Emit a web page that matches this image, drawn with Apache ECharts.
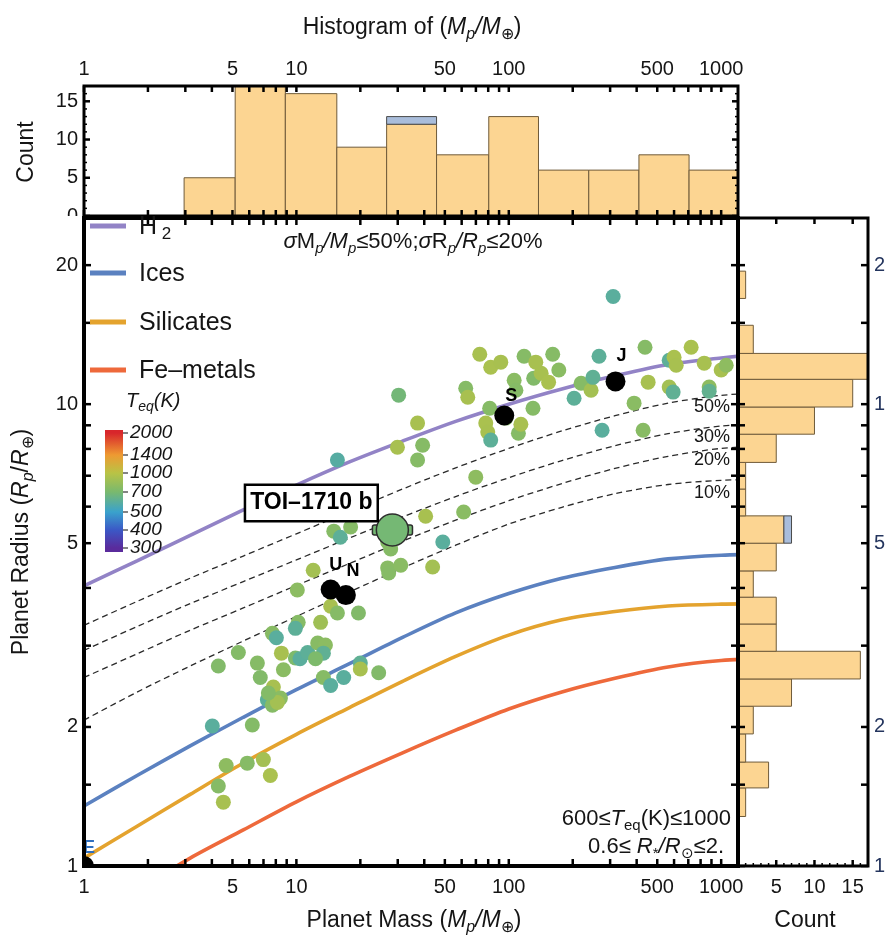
<!DOCTYPE html>
<html>
<head>
<meta charset="utf-8">
<script src="https://cdn.jsdelivr.net/npm/echarts@6.0.0/dist/echarts.min.js"></script>
<style>
html,body{margin:0;padding:0;background:#fff;}
#chart{width:885px;height:944px;}
</style>
</head>
<body>
<div id="chart"></div>
<script>
// ================= DATA =================
const massTickLabels = [1, 5, 10, 50, 100, 500, 1000];
const massTicks = [1,2,3,4,5,6,7,8,9,10,20,30,40,50,60,70,80,90,100,200,300,400,500,600,700,800,900,1000];
const radiusTickLabels = [1, 2, 5, 10, 20];
const radiusTicks = [1,1.5,2,3,4,5,6,7,8,9,10,15,20];
const countTickLabels = [5, 10, 15];
const histCountTickLabels = [0, 5, 10, 15];
const countMajorTicks = [0, 5, 10, 15];
const countMinorTicks = [1,2,3,4,6,7,8,9,11,12,13,14,16,17];

// top histogram (planet mass)
const massBinEdges = [2.96, 5.15, 8.87, 15.5, 26.6, 45.7, 80.5, 138, 238, 410, 706, 1216];
const massBinCounts = [5, 17, 16, 9, 12, 8, 13, 6, 6, 8, 6];
const massBinToi = [0, 0, 0, 0, 1, 0, 0, 0, 0, 0, 0];

// right histogram (planet radius)
const radiusBinEdges = [1.28, 1.476, 1.679, 1.932, 2.218, 2.541, 2.917, 3.342, 3.82, 4.355, 5.0, 5.73, 6.55, 7.48, 8.61, 9.86, 11.32, 12.88, 14.82, 16.94, 19.41];
const radiusBinCounts = [1, 4, 1, 2, 7, 16, 5, 5, 2, 5, 6, 1, 1, 5, 10, 15, 17, 2, 0, 1];
const radiusBinToi = [0, 0, 0, 0, 0, 0, 0, 0, 0, 0, 1, 0, 0, 0, 0, 0, 0, 0, 0, 0];

// composition curves (radius read at masses spaced by a quarter decade)
const compMass = [1, 1.778, 3.162, 5.623, 10, 17.78, 31.62, 56.23, 100, 177.8, 316.2, 562.3, 1000, 1778];
const h2Radius = [4.04, 4.58, 5.20, 5.90, 6.68, 7.50, 8.32, 9.18, 10.0, 10.79, 11.52, 12.19, 12.59, 12.94];
const icesRadius = [1.349, 1.570, 1.820, 2.099, 2.410, 2.742, 3.126, 3.532, 3.890, 4.198, 4.431, 4.624, 4.710, 4.732];
const silicatesRadius = [1.040, 1.219, 1.429, 1.671, 1.928, 2.203, 2.512, 2.844, 3.162, 3.412, 3.556, 3.656, 3.690, 3.698];
const feMass = [1.778, 3.162, 5.623, 10, 17.78, 31.62, 56.23, 100, 177.8, 316.2, 562.3, 1000, 1778];
const feRadius = [0.883, 1.040, 1.197, 1.377, 1.563, 1.758, 1.968, 2.188, 2.382, 2.550, 2.698, 2.786, 2.818];

// H/He fraction (dashed) curves
const fracMass = [1, 1.778, 3.162, 5.623, 10, 17.78, 31.62, 56.23, 100, 177.8, 316.2, 562.3, 1000, 1778];
const frac50Radius = [3.32, 3.74, 4.20, 4.69, 5.24, 5.86, 6.55, 7.28, 8.02, 8.75, 9.44, 10.05, 10.45, 10.62];
const frac30Radius = [2.93, 3.30, 3.70, 4.13, 4.60, 5.13, 5.70, 6.31, 6.93, 7.55, 8.13, 8.63, 8.97, 9.10];
const frac20Radius = [2.56, 2.88, 3.24, 3.62, 4.05, 4.52, 5.05, 5.61, 6.18, 6.73, 7.26, 7.71, 8.02, 8.13];
const frac10Radius = [2.07, 2.38, 2.71, 3.07, 3.47, 3.92, 4.42, 4.95, 5.50, 5.98, 6.40, 6.70, 6.84, 6.89];
const fracNames = ['50%', '30%', '20%', '10%'];
const fracLabelMass = 1200;
const fracLabelRadius = [10.51, 9.06, 8.07, 6.85];

// exoplanets
const planetMass = [
14.5,15.6,19.6,10.2,9.89,13.0,7.71,8.05,5.33,4.29,
8.50,6.55,6.76,9.89,10.4,11.3,12.6,13.7,13.4,12.3,
7.79,8.41,7.30,7.71,8.14,13.4,14.5,16.7,20.0,20.0,
24.4,4.02,6.20,4.67,5.87,6.99,7.54,4.29,4.53,7.38,8.69,
15.0,16.1,18.0,40.6,61.3,48.9,69.9,26.9,27.8,26.9,27.2,31.0,43.8,12.0,10.1,15.6,
30.3,37.2,39.3,37.2,29.9,62.7,64.1,81.3,77.9,79.6,
82.2,73.0,82.2,91.7,106,108,118,131,142,154,
161,172,111,114,130,203,219,244,249,266,
275,310,389,429,438,453,569,600,614,722,
569,594,832,878,878,1000,1056,96.8,134
];
const planetRadius = [
3.65,3.53,3.53,3.37,3.27,3.37,3.19,3.12,2.90,2.71,
2.89,2.75,2.56,2.82,2.81,2.90,3.04,3.01,2.89,2.81,
2.44,2.31,2.29,2.23,2.26,2.56,2.46,2.56,2.75,2.67,
2.62,2.01,2.02,1.65,1.67,1.70,1.57,1.49,1.375,2.37,2.66,
5.31,5.15,5.42,5.72,5.84,5.03,6.95,5.03,4.86,4.42,4.31,4.48,4.44,4.37,3.96,7.57,
10.46,9.10,8.15,7.57,8.07,10.83,10.35,9.80,9.10,8.70,
8.36,12.83,12.02,12.33,11.27,10.72,12.70,11.38,11.67,11.16,
12.83,11.86,8.65,9.05,9.80,10.3,11.10,10.72,11.43,12.70,
8.78,17.1,10.05,8.78,13.28,11.16,12.45,12.64,12.14,13.28,
10.89,10.62,12.27,10.89,10.67,11.86,12.14,9.33,12.33
];
const planetTeq = [
920,760,740,760,610,880,770,600,750,740,
920,760,740,720,600,610,770,790,620,720,
920,780,610,760,900,760,600,600,620,920,
740,600,750,800,760,900,930,760,920,750,780,
760,610,760,920,780,600,800,760,760,770,760,780,900,900,790,590,
680,920,760,760,920,760,920,760,930,920,
610,920,930,920,780,760,760,740,920,930,
760,780,760,920,760,610,760,900,620,610,
600,600,780,770,760,920,610,930,920,930,
900,620,920,800,630,920,800,760,920
];

// solar system bodies
const solarNames = ['E', 'U', 'N', 'S', 'J'];
const solarMass = [1, 14.5, 17.1, 95.2, 318];
const solarRadius = [1, 3.97, 3.86, 9.45, 11.2];

// TOI-1710 b
const toiName = 'TOI\u20131710 b';
const toiMass = 28.3, toiMassLow = 22.8, toiMassHigh = 35.2;
const toiRadius = 5.34, toiTeq = 687;

// colour bar
const colorbarTicks = [300, 400, 500, 700, 1000, 1400, 2000];

// ================= STYLE =================
const F = "'Liberation Sans', Arial, sans-serif";
const INK = '#151515';
const colorbarColors = ['#5a2b9c', '#3b58c6', '#3aa2cc', '#79b96e', '#b9c345', '#ee9a32', '#d8262b'];
const colorbarLabelY = [548, 530, 512, 492, 473, 455, 433];
const legendNames = ['H2', 'Ices', 'Silicates', 'Fe\u2013metals'];
const legendColors = ['#9283c6', '#5b81c0', '#e4a32e', '#ee693b'];
const legendY = [226, 273, 322, 370];
const barFill = '#fcd592', barStroke = '#6f5b3a', toiFill = '#a9bddb';
const labelOffsets = {E: [5, -18], U: [5, -24], N: [7, -24], S: [7, -19], J: [6, -25]};

function hexToRgb(h){ return [parseInt(h.slice(1,3),16), parseInt(h.slice(3,5),16), parseInt(h.slice(5,7),16)]; }
function teqColor(t){
  const T = colorbarTicks, C = colorbarColors;
  if (t <= T[0]) return C[0];
  for (let i = 1; i < T.length; i++) {
    if (t <= T[i]) {
      const f = (t - T[i-1]) / (T[i] - T[i-1]);
      const a = hexToRgb(C[i-1]), b = hexToRgb(C[i]);
      return 'rgb(' + a.map((v, k) => Math.round(v + (b[k]-v)*f)).join(',') + ')';
    }
  }
  return C[C.length-1];
}

function lineEl(x1, y1, x2, y2, lw){
  return {type:'line', shape:{x1, y1, x2, y2}, style:{stroke:'#000', lineWidth:lw}};
}

// tick marks drawn through the axes' own scales
function tickSeries(gi, dim, values, ref, len, lw, sides){
  return {
    type:'custom', xAxisIndex:gi, yAxisIndex:gi, clip:false, silent:true, z:30,
    data: values.map(v => dim === 'x' ? [v, ref] : [ref, v]),
    renderItem(params, api){
      const cs = params.coordSys;
      const p = api.coord([api.value(0), api.value(1)]);
      const ch = [];
      if (dim === 'x') {
        if (sides.indexOf('b') >= 0) ch.push(lineEl(p[0], cs.y + cs.height, p[0], cs.y + cs.height - len, lw));
        if (sides.indexOf('t') >= 0) ch.push(lineEl(p[0], cs.y, p[0], cs.y + len, lw));
      } else {
        if (sides.indexOf('l') >= 0) ch.push(lineEl(cs.x, p[1], cs.x + len, p[1], lw));
        if (sides.indexOf('r') >= 0) ch.push(lineEl(cs.x + cs.width, p[1], cs.x + cs.width - len, p[1], lw));
      }
      return {type:'group', children:ch};
    }
  };
}

// tick labels
function labelSeries(gi, dim, values, ref, side, gap, extra){
  extra = extra || {};
  return {
    type:'custom', xAxisIndex:gi, yAxisIndex:gi, clip:false, silent:true, z:30,
    data: values.map(v => dim === 'x' ? [v, ref] : [ref, v]),
    renderItem(params, api){
      const cs = params.coordSys;
      const v = dim === 'x' ? api.value(0) : api.value(1);
      const p = api.coord([api.value(0), api.value(1)]);
      let x, y, align = 'center';
      if (side === 'b') { x = p[0]; y = cs.y + cs.height + gap; }
      else if (side === 't') { x = p[0]; y = cs.y - gap; }
      else if (side === 'l') { x = cs.x - gap; y = p[1]; align = 'right'; }
      else { x = cs.x + cs.width + gap; y = p[1]; align = 'left'; }
      return {type:'text', x, y, style:{text:String(v), font:'20px ' + F, fill:extra.color || INK, align, verticalAlign:'middle'}};
    }
  };
}

function frameSeries(gi, ref, lw){
  return {
    type:'custom', xAxisIndex:gi, yAxisIndex:gi, clip:false, silent:true, z:31,
    data:[ref],
    renderItem(params){
      const cs = params.coordSys;
      return {type:'rect', shape:{x:cs.x, y:cs.y, width:cs.width, height:cs.height}, style:{fill:'none', stroke:'#000', lineWidth:lw}};
    }
  };
}

function lineSeries(name, xs, ys, color, dashed){
  return {
    name, type:'line', xAxisIndex:1, yAxisIndex:1, smooth:0.3, showSymbol:false, symbol:'none', silent:true,
    clip:true, z:dashed ? 3 : 2,
    data: xs.map((x, i) => [x, ys[i]]),
    lineStyle: dashed ? {color:'#2a2a2a', width:1.3, type:[6, 4]} : {color, width:3.6}
  };
}

// ================= CHART =================
const chart = echarts.init(document.getElementById('chart'), null, {renderer:'canvas'});

const massBins = massBinCounts.map((c, i) => [massBinEdges[i], massBinEdges[i+1], c, massBinToi[i]]);
const radiusBins = radiusBinCounts.map((c, i) => [c, radiusBinEdges[i], radiusBinEdges[i+1], radiusBinToi[i]]);

const sub = (size) => ({fontSize:Math.round(size*0.68), fontFamily:F, fontStyle:'italic', lineHeight:Math.round(size*0.55), verticalAlign:'bottom', fill:INK});
function rich(size){
  return {
    n:{fontSize:size, fontFamily:F, lineHeight:size+6, verticalAlign:'middle', fill:INK},
    i:{fontSize:size, fontFamily:F, fontStyle:'italic', lineHeight:size+6, verticalAlign:'middle', fill:INK},
    s:sub(size),
    su:Object.assign(sub(size), {fontStyle:'normal'})
  };
}
function rtext(x, y, text, size, opts){
  opts = opts || {};
  return Object.assign({type:'text', x, y, z:50, style:{text, rich:rich(size), align:opts.align || 'center', verticalAlign:'middle', font:size + 'px ' + F, fill:INK}}, opts.rotation ? {rotation:opts.rotation} : {});
}

const graphics = [];
// titles
graphics.push(rtext(412, 28, '{n|Histogram of (}{i|M}{s|p}{i|/M}{su|\u2295}{n|)}', 23));
graphics.push(rtext(414, 921, '{n|Planet Mass (}{i|M}{s|p}{i|/M}{su|\u2295}{n|)}', 23));
graphics.push(rtext(805, 921, '{n|Count}', 23));
graphics.push(rtext(27, 152, '{n|Count}', 23, {rotation:Math.PI/2}));
graphics.push(rtext(22, 542, '{n|Planet Radius (}{i|R}{s|p}{n|/}{i|R}{su|\u2295}{n|)}', 23, {rotation:Math.PI/2}));
// annotations
graphics.push(rtext(413, 242, '{i|\u03c3}{n|M}{s|p}{i|/M}{s|p}{n|\u226450%;}{i|\u03c3}{n|R}{s|p}{i|/R}{s|p}{n|\u226420%}', 22));
graphics.push(rtext(731, 819, '{n|600\u2264}{i|T}{su|eq}{n|(K)\u22641000}', 22, {align:'right'}));
graphics.push(rtext(724, 847, '{n|0.6\u2264 }{i|R}{su|*}{i|/R}{su|\u2299}{n|\u22642.}', 22, {align:'right'}));
graphics.push(rtext(126, 401, '{i|T}{s|eq}{i|(K)}', 20, {align:'left'}));
// legend
legendNames.forEach((n, k) => {
  graphics.push({type:'line', z:50, shape:{x1:90, y1:legendY[k], x2:126, y2:legendY[k]}, style:{stroke:legendColors[k], lineWidth:5}});
  const txt = k === 0 ? '{n|H}{su| 2}' : '{n|' + n + '}';
  graphics.push(rtext(139, legendY[k] + 1, txt, 25, {align:'left'}));
});
// colour bar
const cbTop = 430, cbBottom = 552;
graphics.push({
  type:'rect', z:50, shape:{x:105, y:cbTop, width:18, height:cbBottom - cbTop},
  style:{fill:new echarts.graphic.LinearGradient(0, 0, 0, 1,
    colorbarTicks.map((t, k) => ({offset:(colorbarLabelY[k] - cbTop) / (cbBottom - cbTop), color:colorbarColors[k]})).reverse())}
});
colorbarTicks.forEach((t, k) => {
  graphics.push({type:'line', z:51, shape:{x1:123, y1:colorbarLabelY[k], x2:128, y2:colorbarLabelY[k]}, style:{stroke:'#333', lineWidth:1.2}});
  graphics.push({type:'text', z:51, x:130, y:colorbarLabelY[k], style:{text:String(t), font:'italic 19px ' + F, fill:INK, align:'left', verticalAlign:'middle'}});
});
// mask for the cut "0" label of the top histogram
graphics.push({type:'rect', z:60, shape:{x:50, y:216, width:32, height:12}, style:{fill:'#fff'}});

const series = [
  // top histogram
  {
    type:'custom', xAxisIndex:0, yAxisIndex:0, clip:true, silent:true, z:5,
    data:massBins,
    renderItem(params, api){
      const lo = api.value(0), hi = api.value(1), n = api.value(2), ex = api.value(3);
      const a = api.coord([lo, 0]), b = api.coord([hi, n]);
      const ch = [];
      if (n > 0) ch.push({type:'rect', shape:{x:a[0], y:b[1], width:b[0]-a[0], height:a[1]-b[1]}, style:{fill:barFill, stroke:barStroke, lineWidth:1}});
      if (ex > 0) { const c = api.coord([hi, n + ex]); ch.push({type:'rect', shape:{x:a[0], y:c[1], width:b[0]-a[0], height:b[1]-c[1]}, style:{fill:toiFill, stroke:'#4a4a4a', lineWidth:1}}); }
      return {type:'group', children:ch};
    }
  },
  // right histogram
  {
    type:'custom', xAxisIndex:2, yAxisIndex:2, clip:true, silent:true, z:5,
    data:radiusBins,
    renderItem(params, api){
      const n = api.value(0), lo = api.value(1), hi = api.value(2), ex = api.value(3);
      const a = api.coord([0, lo]), b = api.coord([n, hi]);
      const ch = [];
      if (n > 0) ch.push({type:'rect', shape:{x:a[0], y:b[1], width:b[0]-a[0], height:a[1]-b[1]}, style:{fill:barFill, stroke:barStroke, lineWidth:1}});
      if (ex > 0) { const c = api.coord([n + ex, hi]); ch.push({type:'rect', shape:{x:b[0], y:b[1], width:c[0]-b[0], height:a[1]-b[1]}, style:{fill:toiFill, stroke:'#4a4a4a', lineWidth:1}}); }
      return {type:'group', children:ch};
    }
  },
  lineSeries('H2', compMass, h2Radius, legendColors[0]),
  lineSeries('Ices', compMass, icesRadius, legendColors[1]),
  lineSeries('Silicates', compMass, silicatesRadius, legendColors[2]),
  lineSeries('Fe-metals', feMass, feRadius, legendColors[3]),
  lineSeries('50%', fracMass, frac50Radius, null, true),
  lineSeries('30%', fracMass, frac30Radius, null, true),
  lineSeries('20%', fracMass, frac20Radius, null, true),
  lineSeries('10%', fracMass, frac10Radius, null, true),
  // percentage labels at the right end of the dashed curves
  {
    type:'custom', xAxisIndex:1, yAxisIndex:1, clip:false, silent:true, z:6,
    data:fracLabelRadius.map((r, k) => [fracLabelMass, r, k]),
    renderItem(params, api){
      const p = api.coord([api.value(0), api.value(1)]);
      return {type:'text', x:p[0] - 26, y:p[1] + 13, style:{text:fracNames[api.value(2)], font:'18px ' + F, fill:INK, align:'center', verticalAlign:'middle'}};
    }
  },
  // exoplanets
  {
    type:'scatter', xAxisIndex:1, yAxisIndex:1, symbolSize:15, z:8, silent:true,
    data:planetMass.map((m, i) => [m, planetRadius[i], planetTeq[i]]),
    itemStyle:{color:(p) => teqColor(p.value[2]), opacity:1}
  },
  // solar system
  {
    type:'custom', xAxisIndex:1, yAxisIndex:1, clip:true, silent:true, z:9,
    data:solarMass.map((m, i) => [m, solarRadius[i], i]),
    renderItem(params, api){
      const p = api.coord([api.value(0), api.value(1)]);
      const nm = solarNames[api.value(2)];
      const off = labelOffsets[nm];
      return {type:'group', children:[
        {type:'circle', shape:{cx:p[0], cy:p[1], r:10}, style:{fill:'#000'}},
        {type:'text', x:p[0] + off[0], y:p[1] + off[1], style:{text:nm, font:'bold 18px ' + F, fill:nm === 'E' ? '#2f6fbf' : '#000', align:'center', verticalAlign:'middle'}}
      ]};
    }
  },
  // TOI-1710 b
  {
    type:'custom', xAxisIndex:1, yAxisIndex:1, clip:false, silent:true, z:12,
    data:[[toiMass, toiRadius, toiMassLow, toiMassHigh, toiTeq]],
    renderItem(params, api){
      const c = api.coord([api.value(0), api.value(1)]);
      const lo = api.coord([api.value(2), api.value(1)]);
      const hi = api.coord([api.value(3), api.value(1)]);
      const col = teqColor(api.value(4));
      return {type:'group', children:[
        {type:'rect', shape:{x:lo[0], y:c[1]-5, width:hi[0]-lo[0], height:10, r:2}, style:{fill:col, stroke:'#2d2d2d', lineWidth:1.5}},
        {type:'circle', shape:{cx:c[0], cy:c[1], r:16}, style:{fill:col, stroke:'#2d2d2d', lineWidth:1.5}},
        {type:'text', x:c[0] - 81, y:c[1] - 27, style:{text:toiName, font:'bold 23px ' + F, fill:'#000', align:'center', verticalAlign:'middle', backgroundColor:'#fff', borderColor:'#000', borderWidth:2.5, padding:[6, 4, 5, 4]}}
      ]};
    }
  },
  // ticks
  tickSeries(0, 'x', massTicks, 0, 6, 2.5, 'tb'),
  tickSeries(0, 'y', countMajorTicks, 1, 6, 2.5, 'lr'),
  tickSeries(0, 'y', countMinorTicks, 1, 3, 1.5, 'lr'),
  tickSeries(1, 'x', massTicks, 1, 7, 2.5, 'tb'),
  tickSeries(1, 'y', radiusTicks, 1, 7, 2.5, 'lr'),
  tickSeries(2, 'y', radiusTicks, 0, 7, 2.5, 'lr'),
  tickSeries(2, 'x', countMajorTicks, 1, 6, 2.5, 'tb'),
  tickSeries(2, 'x', countMinorTicks, 1, 3, 1.5, 'b'),
  // tick labels
  labelSeries(0, 'x', massTickLabels, 0, 't', 17),
  labelSeries(0, 'y', histCountTickLabels, 1, 'l', 6),
  labelSeries(1, 'x', massTickLabels, 1, 'b', 21),
  labelSeries(1, 'y', radiusTickLabels, 1, 'l', 6),
  labelSeries(2, 'x', countTickLabels, 1, 'b', 21),
  labelSeries(2, 'y', radiusTickLabels, 0, 'r', 6, {color:'#24355e'}),
  // frames
  frameSeries(0, [1, 0], 3),
  frameSeries(2, [0, 1], 3),
  frameSeries(1, [1, 1], 4)
];

const hiddenAxis = {axisLine:{show:false}, axisTick:{show:false}, axisLabel:{show:false}, splitLine:{show:false}};
chart.setOption({
  animation:false,
  backgroundColor:'#fff',
  grid:[
    {left:84, top:86, width:654, height:130, containLabel:false},
    {left:84, top:218, width:654, height:648, containLabel:false},
    {left:738, top:218, width:130, height:648, containLabel:false}
  ],
  xAxis:[
    Object.assign({type:'log', logBase:10, gridIndex:0, min:1, max:1200}, hiddenAxis),
    Object.assign({type:'log', logBase:10, gridIndex:1, min:1, max:1200}, hiddenAxis),
    Object.assign({type:'value', gridIndex:2, min:0, max:17}, hiddenAxis)
  ],
  yAxis:[
    Object.assign({type:'value', gridIndex:0, min:0, max:17}, hiddenAxis),
    Object.assign({type:'log', logBase:10, gridIndex:1, min:1, max:25.3}, hiddenAxis),
    Object.assign({type:'log', logBase:10, gridIndex:2, min:1, max:25.3}, hiddenAxis)
  ],
  graphic:graphics,
  series
});
</script>
</body>
</html>
